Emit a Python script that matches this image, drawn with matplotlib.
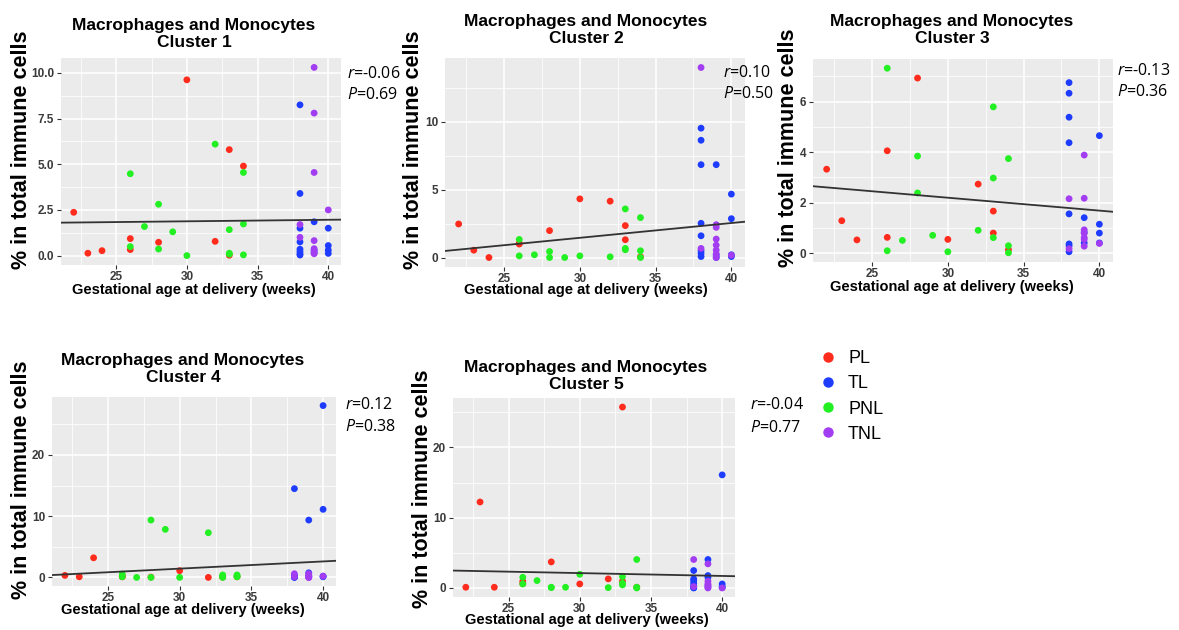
import matplotlib
matplotlib.use('Agg')
import matplotlib.pyplot as plt
from matplotlib.lines import Line2D
from matplotlib.ticker import FixedLocator

# ---- data ----
groups = ['PL', 'TL', 'PNL', 'TNL']
colors = {'PL': '#FF2B1C', 'TL': '#1E3CFF', 'PNL': '#22F022', 'TNL': '#A23DF2'}

pl_age = [22, 23, 24, 26, 26, 28, 30, 32, 33, 33, 34]
pnl_age = [26, 26, 27, 28, 28, 29, 30, 32, 33, 33, 33, 34, 34, 34]
tl_age = [38, 38, 38, 38, 38, 38, 38, 38, 39, 39, 39, 40, 40, 40, 40]
tnl_age = [38, 38, 39, 39, 39, 39, 39, 39, 39, 40]

pl_c1 = [2.37, 0.13, 0.27, 0.93, 0.33, 0.73, 9.62, 0.78, 5.80, 0.02, 4.90]
pnl_c1 = [4.48, 0.49, 1.59, 2.81, 0.36, 1.30, 0.00, 6.10, 1.42, 0.13, 0.08, 4.55, 1.73, 0.04]
tl_c1 = [8.25, 3.40, 1.50, 0.75, 0.35, 0.22, 0.10, 0.03, 1.85, 0.30, 0.15, 1.50, 0.55, 0.30, 0.12]
tnl_c1 = [1.70, 1.00, 10.30, 7.80, 4.55, 0.82, 0.38, 0.22, 0.10, 2.50]

pl_c2 = [2.47, 0.54, 0.00, 0.99, 1.05, 1.98, 4.32, 4.15, 2.35, 1.31, 0.05]
pnl_c2 = [1.33, 0.12, 0.20, 0.44, 0.00, 0.00, 0.12, 0.05, 3.58, 0.67, 0.57, 2.94, 0.50, 0.00]
tl_c2 = [9.53, 8.64, 6.84, 2.52, 1.60, 0.50, 0.30, 0.07, 6.84, 0.20, 0.00, 4.67, 2.86, 0.20, 0.07]
tnl_c2 = [14.00, 0.67, 2.42, 2.22, 1.36, 0.91, 0.54, 0.25, 0.00, 0.17]

pl_c3 = [3.32, 1.28, 0.52, 4.05, 0.62, 6.93, 0.54, 2.73, 1.66, 0.79, 0.13]
pnl_c3 = [7.32, 0.09, 0.50, 3.84, 2.38, 0.70, 0.05, 0.90, 5.79, 2.97, 0.61, 3.74, 0.29, 0.01]
tl_c3 = [6.75, 6.33, 5.38, 4.37, 1.55, 0.36, 0.28, 0.05, 1.40, 0.82, 0.40, 4.65, 1.14, 0.79, 0.40]
tnl_c3 = [2.15, 0.17, 3.88, 2.17, 0.92, 0.78, 0.61, 0.54, 0.27, 0.38]

pl_c4 = [0.33, 0.10, 3.20, 0.20, 0.10, 0.05, 1.10, 0.00, 0.10, 0.05, 0.10]
pnl_c4 = [0.55, 0.10, 0.00, 9.37, 0.00, 7.85, 0.00, 7.30, 0.40, 0.20, 0.00, 0.40, 0.20, 0.10]
tl_c4 = [14.50, 0.30, 0.20, 0.10, 0.10, 0.05, 0.05, 0.00, 9.37, 0.75, 0.20, 28.07, 11.12, 0.20, 0.10]
tnl_c4 = [0.60, 0.10, 0.60, 0.30, 0.20, 0.10, 0.05, 0.00, 0.00, 0.20]

pl_c5 = [0.10, 12.24, 0.10, 0.95, 0.60, 3.71, 0.57, 1.29, 25.76, 0.95, 0.10]
pnl_c5 = [1.52, 0.57, 1.05, 0.10, 0.05, 0.10, 1.95, 0.05, 1.62, 0.67, 0.43, 4.05, 0.10, 0.00]
tl_c5 = [2.48, 1.29, 1.05, 0.70, 0.33, 0.00, 0.10, 0.05, 4.05, 1.76, 1.50, 16.10, 0.57, 0.20, 0.05]
tnl_c5 = [4.05, 0.19, 3.43, 0.95, 0.57, 0.40, 0.24, 0.00, 0.10, 0.00]

# fitted line value at 22 and 40 weeks
fit_at_22 = [1.81, 0.58, 2.60, 0.49, 2.44]
fit_at_40 = [1.96, 2.54, 1.68, 2.61, 1.71]

r_vals = ['-0.06', '0.10', '-0.13', '0.12', '-0.04']
p_vals = ['0.69', '0.50', '0.36', '0.38', '0.77']

yticks = [[0, 2.5, 5, 7.5, 10], [0, 5, 10], [0, 2, 4, 6], [0, 10, 20], [0, 10, 20]]
yfmt = ['{:.1f}', '{:g}', '{:g}', '{:g}', '{:g}']
xticks = [25, 30, 35, 40]

clusters = [
    (pl_c1, tl_c1, pnl_c1, tnl_c1),
    (pl_c2, tl_c2, pnl_c2, tnl_c2),
    (pl_c3, tl_c3, pnl_c3, tnl_c3),
    (pl_c4, tl_c4, pnl_c4, tnl_c4),
    (pl_c5, tl_c5, pnl_c5, tnl_c5),
]
ages = (pl_age, tl_age, pnl_age, tnl_age)

# ---- layout (pixels, from top-left) ----
W, H = 1179, 630
panel_px = [(61, 58, 341, 265), (445, 58, 745, 267), (813, 59, 1113, 262),
            (52, 397, 336, 586), (453, 398, 735, 597)]
title_px = [(194, 34), (586, 30), (952, 30), (183, 369), (586, 376)]
xlab_px = [(194, 290), (586, 290), (952, 287), (183, 610), (587, 620)]
ylab_px = [(22, 150), (414, 150), (789, 148), (22, 480), (422, 489)]
stat_px = [(347, 74, 95), (723, 73, 94), (1117, 71, 92), (345, 405, 427), (750, 405, 428)]

font = 'Liberation Sans'
plt.rcParams['mathtext.fontset'] = 'custom'
plt.rcParams['mathtext.it'] = 'Open Sans:italic'
plt.rcParams['mathtext.rm'] = 'Open Sans'


def fx(x):
    return x / W


def fy(y):
    return 1 - y / H


fig = plt.figure(figsize=(W / 100, H / 100), dpi=100)

for i, vals in enumerate(clusters):
    l, t, r, b = panel_px[i]
    ax = fig.add_axes([fx(l), fy(b), (r - l) / W, (b - t) / H])
    ax.set_facecolor('#EBEBEB')
    for g, a, v in zip(groups, ages, vals):
        ax.scatter(a, v, s=24, color=colors[g], edgecolors='none', zorder=3)
    ax.axline((22, fit_at_22[i]), (40, fit_at_40[i]), color='#333333', lw=1.3, zorder=4)

    allv = [y for v in vals for y in v]
    lo, hi = min(allv), max(allv)
    pad = 0.05 * (hi - lo)
    ax.set_ylim(lo - pad, hi + pad)
    ax.set_xlim(22 - 0.9, 40 + 0.9)

    yt = yticks[i]
    ax.set_yticks(yt)
    ax.set_yticklabels([yfmt[i].format(v) for v in yt])
    step = yt[1] - yt[0]
    ax.yaxis.set_minor_locator(FixedLocator([v + step / 2 for v in [yt[0] - step] + yt]))
    ax.set_xticks(xticks)
    ax.xaxis.set_minor_locator(FixedLocator([x - 2.5 for x in xticks] + [42.5]))

    ax.grid(which='major', color='white', lw=1.1)
    ax.grid(which='minor', color='white', lw=0.55)
    ax.set_axisbelow(True)
    for s in ax.spines.values():
        s.set_visible(False)
    ax.tick_params(which='major', length=3, width=0.8, color='#333333', pad=2)
    ax.tick_params(axis='x', which='major', pad=1.5)
    ax.tick_params(which='minor', length=0)
    for lab in ax.get_xticklabels() + ax.get_yticklabels():
        lab.set_fontfamily(font)
        lab.set_fontweight('bold')
        lab.set_fontsize(8.5)
        lab.set_color('#3A3A3A')

    tx, ty = title_px[i]
    fig.text(fx(tx), fy(ty), 'Macrophages and Monocytes\nCluster %d' % (i + 1),
             ha='center', va='center', family=font, weight='bold', size=12.5,
             linespacing=1.15)
    xx, xy = xlab_px[i]
    fig.text(fx(xx), fy(xy), 'Gestational age at delivery (weeks)', ha='center',
             va='center', family=font, weight='bold', size=10.5)
    yx, yy = ylab_px[i]
    fig.text(fx(yx), fy(yy), '% in total immune cells', ha='center', va='center',
             rotation=90, family=font, weight='bold', size=15.5)
    sx, ry, py = stat_px[i]
    fig.text(fx(sx), fy(ry), r'$\mathit{r}$=' + r_vals[i], ha='left', va='center',
             family='Open Sans', size=11.5)
    fig.text(fx(sx), fy(py), r'$\mathit{P}$=' + p_vals[i], ha='left', va='center',
             family='Open Sans', size=11.5)

handles = [Line2D([], [], marker='o', ls='none', color=colors[g], markersize=6.5)
           for g in groups]
fig.legend(handles, groups, loc='center left', bbox_to_anchor=(fx(821), fy(396.5)),
           frameon=False, prop={'family': 'Liberation Sans', 'size': 13},
           handlelength=0.8, handletextpad=0.7, labelspacing=0.45,
           borderpad=0, borderaxespad=0)

fig.savefig('out.png', dpi=100)
